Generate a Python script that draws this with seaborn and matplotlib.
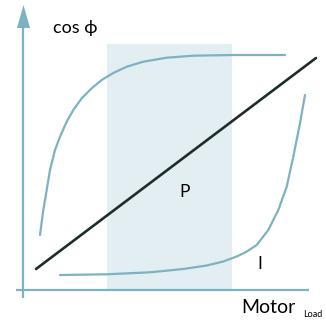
import matplotlib
matplotlib.use("Agg")
import matplotlib.pyplot as plt
import seaborn as sns
import pandas as pd

# Data (read in picture units: x to the right, y downward)
cos_x = [40, 43.3, 46.7, 50, 55, 60, 66.7, 73.3, 81.7, 91.7, 101.7, 113.3,
         126.7, 143.3, 166.7, 193.3, 233, 285]
cos_y = [235, 210, 190, 170, 150, 136.7, 121.7, 110, 98.3, 88.3, 80, 73,
         66.7, 61.7, 57.7, 55.7, 55, 55]

cur_x = [60, 106.7, 150, 183.3, 206.7, 223.3, 236.7, 246, 256.7, 268.3,
         278.3, 286.7, 293.3, 300, 305]
cur_y = [275, 274.3, 272.3, 269, 265.5, 261.5, 256.5, 252, 245, 230,
         210, 186.7, 156.7, 123.3, 95]

pow_x = [36, 316]
pow_y = [269, 58]

band_x = [107, 232]
band_y = [44, 290]

teal = "#7db2c2"
band = "#e2eef1"
dark = "#1f2c2c"

sns.set_theme(style="white")
plt.rcParams['font.family'] = ['Lato', 'DejaVu Sans']

fig = plt.figure(figsize=(3.26, 3.21), dpi=100)
ax = fig.add_axes([0, 0, 1, 1])
ax.axis("off")

ax.fill_between(band_x, band_y[0], band_y[1], color=band, lw=0, zorder=0)

df_cos = pd.DataFrame({"x": cos_x, "y": cos_y})
df_cur = pd.DataFrame({"x": cur_x, "y": cur_y})
df_pow = pd.DataFrame({"x": pow_x, "y": pow_y})
sns.lineplot(data=df_cos, x="x", y="y", sort=False, color=teal, lw=1.6, ax=ax,
             estimator=None, solid_joinstyle="round")
sns.lineplot(data=df_cur, x="x", y="y", sort=False, color=teal, lw=1.6, ax=ax,
             estimator=None, solid_joinstyle="round")
sns.lineplot(data=df_pow, x="x", y="y", sort=False, color=dark, lw=1.9, ax=ax,
             estimator=None)

# axes
ax.plot([16, 309], [290, 290], color=teal, lw=1.6, solid_capstyle="butt")
ax.plot([23, 23], [298, 26], color=teal, lw=1.6, solid_capstyle="butt")
ax.fill([17, 23.5, 30], [28, 5, 28], color=teal, lw=0)

ax.set_xlim(0, 326)
ax.set_ylim(321, 0)
ax.set_xlabel("")
ax.set_ylabel("")
ax.axis("off")

ax.text(53, 28, "cos ϕ", fontsize=13, color="black", va="center", ha="left")
ax.text(185, 192, "P", fontsize=12.5, color="black", va="center", ha="center")
ax.text(260, 264, "I", fontsize=12.5, color="black", va="center", ha="center")
ax.text(241, 313, "Motor", fontsize=14, color="black", va="baseline", ha="left")
ax.text(303, 317, "Load", fontsize=6.5, color="black", va="baseline", ha="left")

fig.savefig("out.png", dpi=100)
